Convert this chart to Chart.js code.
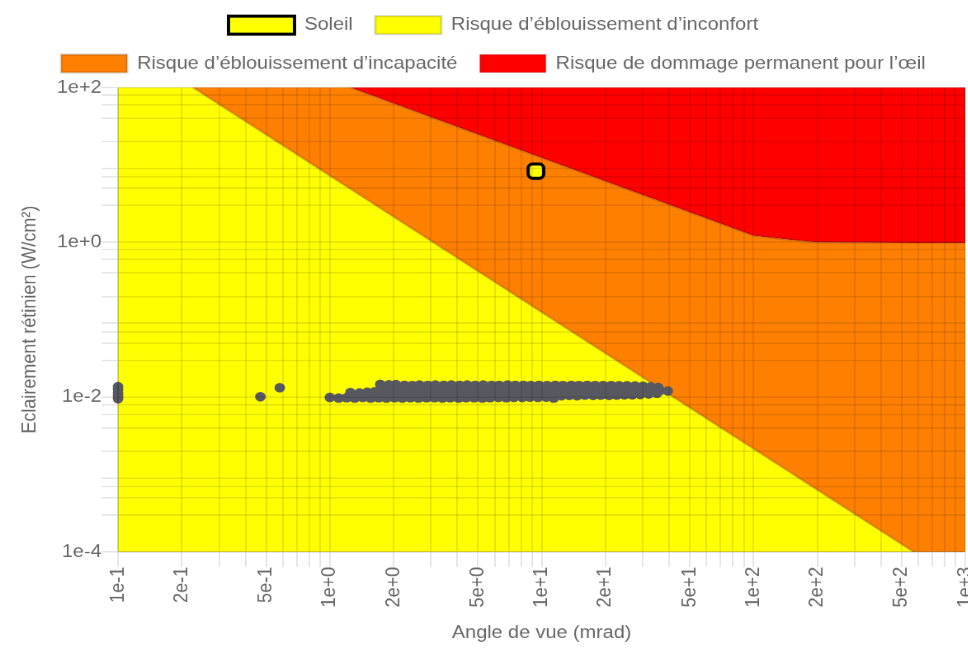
<!DOCTYPE html>
<html lang="fr">
  <head>
    <meta charset="UTF-8" />
    <script src="https://cdn.jsdelivr.net/npm/chart.js@4.4.1/dist/chart.umd.min.js"></script>
    <style>
      html,
      body {
        margin: 0;
        padding: 0;
        width: 968px;
        height: 648px;
        overflow: hidden;
        background: #fff;
      }
      /* the original chart is a small canvas stretched to the picture size */
      #wrap {
        position: absolute;
        left: 0;
        top: -10.35px;
        width: 598px;
        height: 440px;
        transform: scale(1.65, 1.5);
        transform-origin: 0 0;
      }
    </style>
  </head>
  <body>
    <div id="wrap">
      <canvas id="myChart" width="598" height="440"></canvas>
    </div>

    <script>
      // angle de vue (mrad) -> x, éclairement rétinien (W/cm²) -> y
      const soleil = [{ x: 9.4, y: 8.3 }];

      // limite entre inconfort et incapacité
      const limiteInconfort = [
        { x: 0.1, y: 420 },
        { x: 1000, y: 3.7e-5 },
      ];

      // limite entre incapacité et dommage permanent
      const limiteDommage = [
        { x: 0.1, y: 1270 },
        { x: 100, y: 1.22 },
        { x: 138, y: 1.1 },
        { x: 200, y: 1.0 },
        { x: 1000, y: 0.98 },
      ];

      // points de mesure [angle, éclairement]
      const mesures = [
        [0.1, 0.0136], [0.1, 0.0124], [0.1, 0.0114], [0.1, 0.0104], [0.1, 0.0095],
        [0.47, 0.0101], [0.58, 0.0132],
        // bas
        [1.0, 0.0099], [1.1, 0.0097], [1.2, 0.0098], [1.31, 0.0097], [1.43, 0.0099],
        [1.56, 0.0097], [1.7, 0.0098], [1.85, 0.0097], [2.02, 0.0098], [2.2, 0.0097],
        [2.4, 0.0098], [2.62, 0.0097], [2.86, 0.0098], [3.12, 0.0098], [3.4, 0.0097],
        [3.7, 0.0098], [4.05, 0.0097], [4.4, 0.0098], [4.8, 0.0098], [5.25, 0.0097],
        [5.7, 0.0098], [6.25, 0.0099], [6.8, 0.0098], [7.4, 0.0099], [8.1, 0.0099],
        [8.8, 0.01], [9.6, 0.0099], [10.5, 0.01], [11.4, 0.0097],
        [12.4, 0.0104], [13.5, 0.0105], [14.7, 0.0104], [16, 0.0106], [17.5, 0.0105],
        [19, 0.0106], [20.8, 0.0105], [22.6, 0.0106], [24.6, 0.0107], [26.8, 0.0107],
        [29.2, 0.0108], [32, 0.011], [35, 0.0112],
        // milieu
        [1.25, 0.0114], [1.38, 0.0113], [1.5, 0.0115], [1.63, 0.0117], [1.77, 0.0118],
        [1.93, 0.0119], [2.1, 0.0119], [2.3, 0.012], [2.5, 0.0119], [2.72, 0.012],
        [2.96, 0.0119], [3.23, 0.012], [3.52, 0.0119], [3.84, 0.012], [4.18, 0.0119],
        [4.56, 0.012], [4.97, 0.0119], [5.42, 0.012], [5.9, 0.0119], [6.45, 0.012],
        [7.0, 0.0119], [7.65, 0.012], [8.35, 0.0119], [9.1, 0.012], [9.9, 0.0119],
        [10.8, 0.012], [11.8, 0.0119], [12.9, 0.012], [14.0, 0.0119], [15.3, 0.012],
        [16.7, 0.012], [18.2, 0.0121], [19.8, 0.012], [21.6, 0.0121], [23.5, 0.012],
        [25.6, 0.0121], [27.9, 0.012], [30.4, 0.0121], [33.2, 0.012], [36.2, 0.0121],
        [39.4, 0.012],
        // haut
        [1.73, 0.0146], [1.9, 0.0144], [2.05, 0.0145], [2.25, 0.0142], [2.45, 0.0141],
        [2.65, 0.0143], [2.9, 0.0142], [3.15, 0.0143], [3.45, 0.0142], [3.75, 0.0143],
        [4.1, 0.0142], [4.45, 0.0143], [4.85, 0.0142], [5.3, 0.0143], [5.8, 0.0142],
        [6.3, 0.0142], [6.9, 0.0143], [7.5, 0.0142], [8.2, 0.0142], [8.9, 0.0141],
        [9.7, 0.0142], [10.6, 0.0141], [11.6, 0.0142], [12.6, 0.0141], [13.8, 0.0142],
        [15, 0.0141], [16.4, 0.0142], [17.9, 0.0141], [19.5, 0.0141], [21.3, 0.0141],
        [23.2, 0.014], [25.3, 0.014], [27.6, 0.0139], [30.1, 0.0138], [32.8, 0.0136],
        [35.5, 0.0133],
      ];

      // ticks (grid lines) and the ones that get a label
      const xTicks = [
        0.1, 0.2, 0.3, 0.4, 0.5, 0.6, 0.7, 0.8, 0.9,
        1, 2, 3, 4, 5, 6, 7, 8, 9,
        10, 20, 30, 40, 50, 60, 70, 80, 90,
        100, 200, 300, 400, 500, 600, 700, 800, 900, 1000,
      ];
      const xTicksLabelled = [0.1, 0.2, 0.5, 1, 2, 5, 10, 20, 50, 100, 200, 500, 1000];
      const yTicks = [
        1e-4, 3e-4, 5e-4, 7e-4, 9e-4, 0.002, 0.004, 0.006, 0.008,
        0.01, 0.03, 0.05, 0.07, 0.09, 0.2, 0.4, 0.6, 0.8,
        1, 3, 5, 7, 9, 20, 40, 60, 80, 100,
      ];
      const yTicksLabelled = [1e-4, 0.01, 1, 100];

      Chart.defaults.font.family = "'Liberation Sans', Arial, Helvetica, sans-serif";
      Chart.defaults.font.size = 12;
      Chart.defaults.color = "#666";

      const gridOpts = {
        color: "rgba(0,0,0,0.1)",
        tickLength: 10,
        z: 1,
      };

      const ctx = document.getElementById("myChart").getContext("2d");
      const myChart = new Chart(ctx, {
        type: "scatter",
        data: {
          datasets: [
            {
              label: "Soleil",
              data: soleil,
              backgroundColor: "#ffff00",
              borderColor: "#000",
              borderWidth: 2,
              pointStyle: "rectRounded",
              pointRadius: 5.5,
            },
            {
              label: "Mesures",
              data: mesures.map((p) => ({ x: p[0], y: p[1] })),
              backgroundColor: "rgb(88,88,96)",
              borderWidth: 0,
              pointRadius: 3.2,
              clip: 10, // points on the left edge are drawn whole
            },
            {
              type: "line",
              label: "Risque d\u2019éblouissement d\u2019inconfort",
              data: limiteInconfort,
              backgroundColor: "#ffff00",
              borderColor: "rgba(0,0,0,0.15)",
              borderWidth: 1.5,
              pointRadius: 0,
              fill: "start",
            },
            {
              type: "line",
              label: "Risque d\u2019éblouissement d\u2019incapacité",
              data: limiteDommage,
              backgroundColor: "#ff8000",
              borderColor: "rgba(0,0,0,0.15)",
              borderWidth: 1.5,
              pointRadius: 0,
              fill: "start",
            },
            {
              type: "line",
              label: "Risque de dommage permanent pour l\u2019œil",
              data: limiteDommage,
              backgroundColor: "#ff0000",
              borderColor: "rgba(0,0,0,0.1)",
              borderWidth: 1,
              pointRadius: 0,
              fill: "end",
            },
          ],
        },
        options: {
          responsive: false,
          animation: false,
          devicePixelRatio: 2,
          plugins: {
            tooltip: { enabled: false },
            legend: {
              labels: {
                boxWidth: 40,
                boxHeight: 12,
                padding: 13.6,
                font: { size: 12, lineHeight: 1 },
                filter: (item) => item.datasetIndex !== 1, // no legend for the measures
              },
            },
          },
          scales: {
            x: {
              type: "logarithmic",
              position: "bottom",
              min: 0.1,
              max: 1000,
              grid: gridOpts,
              border: { z: 1 },
              afterBuildTicks: (scale) => {
                scale.ticks = xTicks.map((v) => ({ value: v }));
              },
              afterFit: (scale) => {
                scale.paddingRight = 13;
              },
              ticks: {
                autoSkip: false,
                minRotation: 90,
                maxRotation: 90,
                padding: 0,
                callback: (value) =>
                  xTicksLabelled.includes(value) ? value.toExponential(0) : "",
              },
              title: {
                display: true,
                text: "Angle de vue (mrad)",
                padding: { top: 10, bottom: 4 },
              },
            },
            y: {
              type: "logarithmic",
              min: 1e-4,
              max: 100,
              grid: gridOpts,
              border: { z: 1 },
              afterBuildTicks: (scale) => {
                scale.ticks = yTicks.map((v) => ({ value: v }));
              },
              afterFit: (scale) => {
                scale.paddingTop = 65;
              },
              ticks: {
                autoSkip: false,
                padding: 0,
                callback: (value) =>
                  yTicksLabelled.includes(value) ? value.toExponential(0) : "",
              },
              title: {
                display: true,
                text: "Eclairement rétinien (W/cm²)",
                padding: { top: 10.8, bottom: 9.3 },
              },
            },
          },
        },
      });
    </script>
  </body>
</html>
